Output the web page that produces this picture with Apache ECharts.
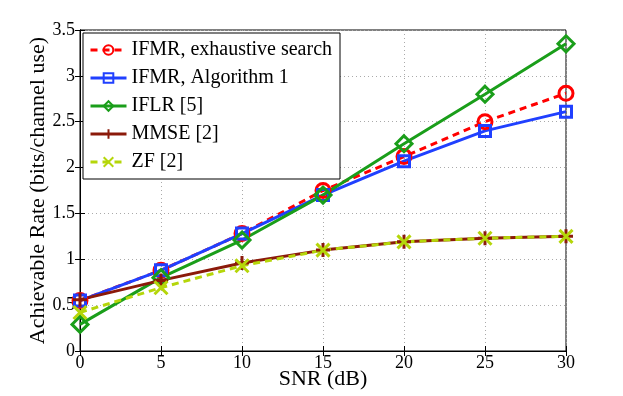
<!DOCTYPE html>
<html>
<head>
<meta charset="utf-8">
<script src="https://cdn.jsdelivr.net/npm/echarts@6/dist/echarts.min.js"></script>
<style>
  html, body { margin: 0; padding: 0; background: #fff; }
  #chartBox { width: 623px; height: 396px; }
</style>
</head>
<body>
<div id="chartBox"></div>
<script>
// SNR (dB) on x axis
var snr = [0, 5, 10, 15, 20, 25, 30]
var yTicks = ['0', '0.5', '1', '1.5', '2', '2.5', '3', '3.5']

var ifmrExhaustive = [0.55, 0.88, 1.28, 1.75, 2.12, 2.5, 2.81]
var ifmrAlg1 = [0.55, 0.88, 1.28, 1.70, 2.07, 2.40, 2.61]
var iflr = [0.29, 0.80, 1.21, 1.70, 2.26, 2.80, 3.35]
var mmse = [0.56, 0.77, 0.96, 1.10, 1.19, 1.23, 1.25]
var zf = [0.42, 0.69, 0.93, 1.10, 1.19, 1.23, 1.25]

var font = 'Liberation Serif'

function pairs (ys) {
  return snr.map(function (x, i) { return [x, ys[i]] })
}

function mkSeries (name, data, color, symbol, dashed, size) {
  return {
    name: name,
    type: 'line',
    data: pairs(data),
    symbol: symbol,
    symbolSize: size || 14,
    showAllSymbol: true,
    lineStyle: { color: color, width: 3, type: dashed ? [7, 5] : 'solid' },
    itemStyle: { color: 'rgba(0,0,0,0)', borderColor: color, borderWidth: 3 },
    emphasis: { disabled: true },
    z: 3
  }
}

var myChart = echarts.init(document.getElementById('chartBox'))
myChart.setOption({
  animation: false,
  backgroundColor: '#fff',
  grid: {
    left: 80, right: 57, top: 30, bottom: 45,
    outerBoundsMode: 'none',
    containLabel: false,
    show: true, borderColor: '#000', borderWidth: 1
  },
  legend: {
    orient: 'vertical',
    left: 83,
    top: 33,
    padding: [7, 8, 7, 6],
    itemGap: 8,
    itemWidth: 36,
    itemHeight: 12,
    backgroundColor: '#fff',
    borderColor: '#000',
    borderWidth: 1,
    lineStyle: { width: 3 },
    textStyle: { fontFamily: font, fontSize: 20, color: '#000' },
    data: ['IFMR, exhaustive search', 'IFMR, Algorithm 1', 'IFLR [5]', 'MMSE [2]', 'ZF [2]']
  },
  xAxis: [{
    type: 'value',
    min: 0,
    max: 30,
    interval: 5,
    name: 'SNR (dB)',
    nameLocation: 'middle',
    nameGap: 17,
    nameMoveOverlap: false,
    nameTextStyle: { fontFamily: font, fontSize: 22, color: '#000', verticalAlign: 'top' },
    axisLine: { lineStyle: { color: '#000' } },
    axisTick: { inside: true, length: 5, lineStyle: { color: '#000' } },
    axisLabel: { fontFamily: font, fontSize: 18, color: '#000', margin: 3 },
    splitLine: { show: true, lineStyle: { color: '#aaa', type: [1, 3] } }
  }, {
    type: 'value',
    position: 'top',
    min: 0,
    max: 30,
    interval: 5,
    axisLine: { show: true, lineStyle: { color: '#000' } },
    axisTick: { inside: true, length: 5, lineStyle: { color: '#000' } },
    axisLabel: { show: false },
    splitLine: { show: false }
  }],
  yAxis: [{
    type: 'value',
    min: 0,
    max: 3.5,
    interval: 0.5,
    name: 'Achievable Rate (bits/channel use)',
    nameLocation: 'middle',
    nameGap: 31,
    nameMoveOverlap: false,
    nameTextStyle: { fontFamily: font, fontSize: 22, color: '#000' },
    axisLine: { show: true, lineStyle: { color: '#000' } },
    axisTick: { inside: true, length: 5, lineStyle: { color: '#000' } },
    axisLabel: {
      fontFamily: font,
      fontSize: 18,
      color: '#000',
      margin: 5,
      formatter: function (v) { return yTicks[Math.round(v * 2)] }
    },
    splitLine: { show: true, lineStyle: { color: '#aaa', type: [1, 3] } }
  }, {
    type: 'value',
    position: 'right',
    min: 0,
    max: 3.5,
    interval: 0.5,
    axisLine: { show: true, lineStyle: { color: '#000' } },
    axisTick: { inside: true, length: 5, lineStyle: { color: '#000' } },
    axisLabel: { show: false },
    splitLine: { show: false }
  }],
  series: [
    mkSeries('IFMR, exhaustive search', ifmrExhaustive, '#ff0000', 'circle', true, 14),
    mkSeries('IFMR, Algorithm 1', ifmrAlg1, '#2040ff', 'rect', false, 11),
    mkSeries('IFLR [5]', iflr, '#1a9e1a', 'diamond', false, 16),
    mkSeries('MMSE [2]', mmse, '#8b1a0a', 'path://M5,0 L5,10 M0,5 L10,5', false, 14),
    mkSeries('ZF [2]', zf, '#b5d60a', 'path://M0,0 L10,10 M10,0 L0,10', true, 13)
  ]
})
</script>
</body>
</html>
